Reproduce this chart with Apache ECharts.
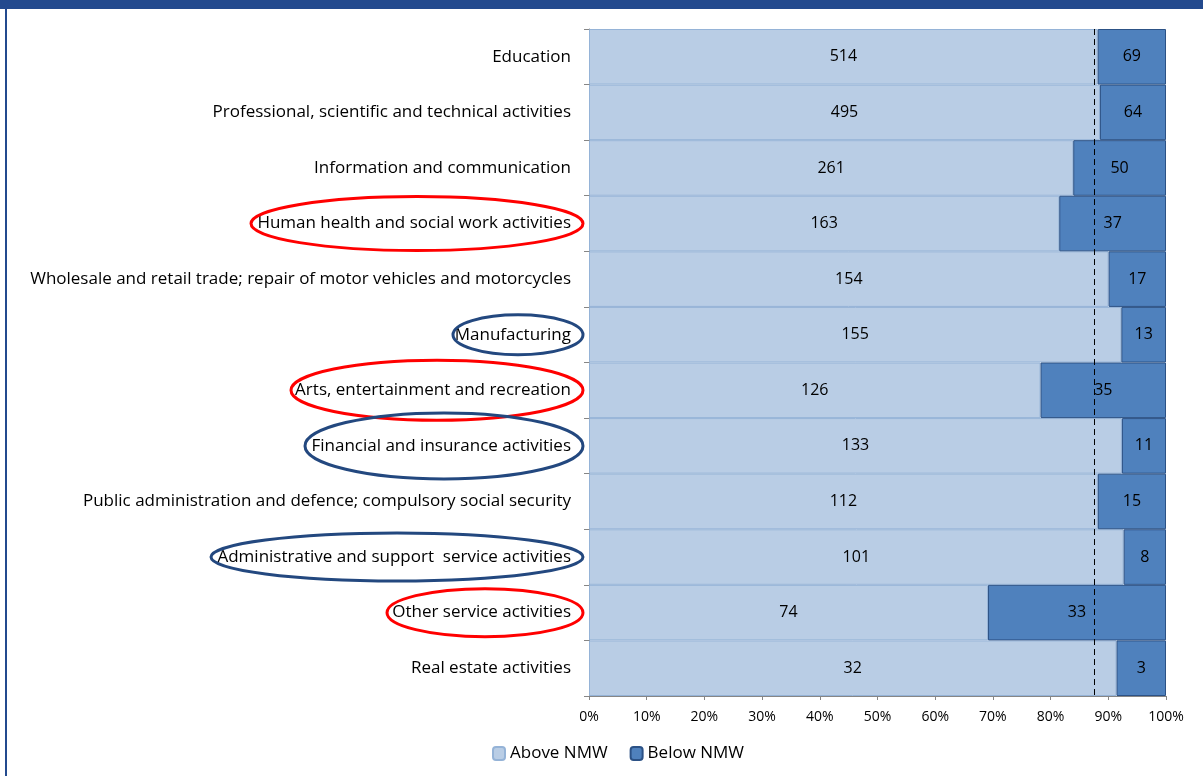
<!DOCTYPE html>
<html>
<head>
<meta charset="utf-8">
<script src="https://cdn.jsdelivr.net/npm/echarts@6/dist/echarts.min.js"></script>
<style>
    html, body { margin: 0; padding: 0; background: #fff; }
    #main { width: 1203px; height: 776px; }
</style>
</head>
<body>
<div id="main"></div>
<script>
const categories = [
    'Education',
    'Professional, scientific and technical activities',
    'Information and communication',
    'Human health and social work activities',
    'Wholesale and retail trade; repair of motor vehicles and motorcycles',
    'Manufacturing',
    'Arts, entertainment and recreation',
    'Financial and insurance activities',
    'Public administration and defence; compulsory social security',
    'Administrative and support  service activities',
    'Other service activities',
    'Real estate activities'
];
const aboveNMW = [514, 495, 261, 163, 154, 155, 126, 133, 112, 101, 74, 32];
const belowNMW = [69, 64, 50, 37, 17, 13, 35, 11, 15, 8, 33, 3];
const averageLine = 87.5; // dashed reference line, % of jobs above NMW

// hand-drawn rings round some of the sector names
const ringed = [
    { name: 'Human health and social work activities', color: '#ff0000', rx: 166, ry: 27 },
    { name: 'Manufacturing', color: '#23487f', rx: 65, ry: 20 },
    { name: 'Arts, entertainment and recreation', color: '#ff0000', rx: 146, ry: 30 },
    { name: 'Financial and insurance activities', color: '#23487f', rx: 139, ry: 33 },
    { name: 'Administrative and support  service activities', color: '#23487f', rx: 186, ry: 24 },
    { name: 'Other service activities', color: '#ff0000', rx: 98, ry: 24 }
];

const abovePct = aboveNMW.map((v, i) => v / (v + belowNMW[i]) * 100);
const belowPct = belowNMW.map((v, i) => v / (aboveNMW[i] + v) * 100);

const font = 'Open Sans';
const chart = echarts.init(document.getElementById('main'), null, { renderer: 'canvas' });

const option = {
    animation: false,
    textStyle: { fontFamily: font },
    grid: {
        left: 589,
        right: 37,
        top: 29,
        bottom: 80
    },
    legend: {
        bottom: 9,
        left: 487,
        itemWidth: 12,
        itemHeight: 13,
        itemGap: 22,
        textStyle: { fontSize: 17, color: '#000', fontFamily: font },
        data: ['Above NMW', 'Below NMW']
    },
    xAxis: {
        type: 'value',
        min: 0,
        max: 100,
        interval: 10,
        axisLine: { show: true, lineStyle: { color: '#868686' } },
        axisTick: { show: true, length: 4, lineStyle: { color: '#868686' } },
        splitLine: { show: false },
        axisLabel: {
            formatter: '{value}%',
            color: '#000',
            fontSize: 14,
            margin: 14,
            fontFamily: font
        }
    },
    yAxis: {
        type: 'category',
        inverse: true,
        data: categories,
        axisLine: { show: true, lineStyle: { color: '#868686' } },
        axisTick: { show: true, length: 5, lineStyle: { color: '#868686' } },
        axisLabel: { color: '#000', fontSize: 17, margin: 18, fontFamily: font }
    },
    series: [{
        name: 'Above NMW',
        type: 'bar',
        stack: 'nmw',
        barCategoryGap: 0,
        data: abovePct,
        itemStyle: {
            color: '#b9cde5',
            borderColor: '#95b3d7',
            borderWidth: 1
        },
        label: {
            show: true,
            position: 'inside',
            color: '#000',
            fontSize: 16,
            fontFamily: font,
            formatter: p => aboveNMW[p.dataIndex]
        },
        markLine: {
            silent: true,
            symbol: 'none',
            label: { show: false },
            lineStyle: { color: '#000', type: [6, 4], width: 1 },
            data: [{ xAxis: averageLine }]
        }
    }, {
        name: 'Below NMW',
        type: 'bar',
        stack: 'nmw',
        barCategoryGap: 0,
        data: belowPct,
        itemStyle: {
            color: '#4f81bd',
            borderColor: '#2c5286',
            borderWidth: 1
        },
        label: {
            show: true,
            position: 'inside',
            color: '#000',
            fontSize: 16,
            fontFamily: font,
            formatter: p => belowNMW[p.dataIndex]
        }
    }]
};
chart.setOption(option);

// frame + rings, positioned off the axes
const axisX = chart.convertToPixel({ xAxisIndex: 0 }, 0);
const graphics = [
    { type: 'rect', left: 0, top: 0, shape: { width: 1203, height: 9 }, style: { fill: '#234a8e' }, z: 100 },
    { type: 'rect', left: 5, top: 0, shape: { width: 2, height: 776 }, style: { fill: '#234a8e' }, z: 100 }
];
ringed.forEach(r => {
    const cy = chart.convertToPixel({ yAxisIndex: 0 }, r.name);
    const cx = axisX - 6 - r.rx;
    graphics.push({
        type: 'ellipse',
        shape: { cx: cx, cy: cy, rx: r.rx, ry: r.ry },
        style: { fill: null, stroke: r.color, lineWidth: 3 },
        z: 100
    });
});
chart.setOption({ graphic: graphics });
</script>
</body>
</html>
